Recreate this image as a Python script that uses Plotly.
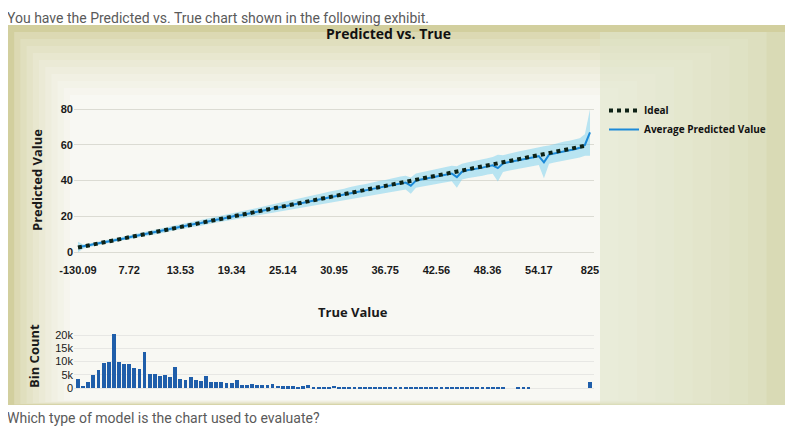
import plotly.graph_objects as go

# bins of the true value (index 0..100), tick labels every 10 bins
tick_bins = [0, 10, 20, 30, 40, 50, 60, 70, 80, 90, 100]
tick_labels = ['-130.09', '7.72', '13.53', '19.34', '25.14', '30.95',
               '36.75', '42.56', '48.36', '54.17', '825']

# ideal line (bin centres), read at the tick bins
ideal_x = [0, 10, 20, 30, 40, 50, 60, 70, 80, 90, 99]
ideal_y = [2.5, 8.2, 14.0, 19.8, 25.5, 31.3, 37.0, 42.8, 48.5, 54.3, 59.5]

# average predicted value per bin
avg_pred = [2.8, 3.0, 3.6, 4.3, 4.8, 5.3, 6.0, 6.6, 7.1, 7.6,
            8.3, 8.9, 9.4, 10.0, 10.5, 11.2, 11.7, 12.2, 12.9, 13.5,
            14.0, 14.5, 15.2, 15.8, 16.2, 16.9, 17.4, 18.1, 18.5, 19.2,
            19.7, 20.4, 20.8, 21.5, 22.0, 22.6, 23.1, 23.8, 24.3, 24.9,
            25.4, 26.1, 26.5, 27.2, 27.6, 28.3, 28.9, 29.4, 30.0, 30.6,
            31.1, 31.7, 32.2, 32.9, 33.3, 34.0, 34.5, 35.1, 35.6, 36.2,
            36.6, 37.3, 37.9, 38.4, 38.9, 37.2, 40.0, 40.6, 41.1, 41.8,
            42.3, 42.9, 43.4, 44.0, 42.0, 45.0, 45.8, 46.2, 46.9, 47.3,
            48.0, 48.6, 47.0, 49.6, 50.3, 50.8, 51.5, 52.0, 52.6, 53.1,
            53.8, 50.3, 54.6, 55.3, 55.8, 56.6, 57.0, 57.6, 58.4, 60.0,
            67.0]

# spread of the predictions around the average, per bin
spread = [3.0, 1.2, 1.0, 1.0, 1.0, 1.0, 1.0, 1.0, 1.0, 1.0,
          1.1, 1.1, 1.2, 1.2, 1.2, 1.2, 1.3, 1.3, 1.3, 1.3,
          1.4, 1.4, 1.4, 1.5, 1.5, 1.5, 1.6, 1.6, 1.6, 1.7,
          1.8, 1.8, 1.9, 2.0, 2.0, 2.1, 2.2, 2.3, 2.4, 2.5,
          2.5, 2.6, 2.7, 2.8, 2.8, 2.9, 3.0, 3.0, 3.1, 3.2,
          3.2, 3.3, 3.3, 3.4, 3.4, 3.5, 3.5, 3.6, 3.6, 3.7,
          3.7, 3.8, 3.8, 3.9, 3.9, 4.5, 4.0, 4.0, 4.1, 4.1,
          4.2, 4.2, 4.3, 4.3, 6.0, 4.4, 4.4, 4.5, 4.5, 4.6,
          4.6, 4.7, 7.5, 4.7, 4.8, 4.8, 4.9, 4.9, 5.0, 5.0,
          5.1, 9.0, 5.1, 5.2, 5.2, 5.3, 5.3, 5.4, 5.4, 6.0,
          13.0]

# number of rows falling in each bin
bin_count = [3400, 900, 2100, 5000, 6900, 9400, 9900, 20500, 9900, 8900,
             8900, 7500, 7100, 13400, 5400, 5400, 4600, 5000, 4100, 7800,
             3400, 3100, 4100, 3100, 2800, 4600, 2400, 2200, 2100, 1900,
             1900, 2900, 1300, 1100, 1400, 1000, 1100, 1100, 1500, 900,
             700, 600, 600, 500, 600, 1100, 500, 500, 500, 500,
             800, 250, 200, 200, 200, 300, 500, 200, 150, 150,
             150, 150, 150, 100, 120, 100, 100, 120, 100, 100,
             80, 100, 80, 100, 80, 80, 100, 80, 60, 80,
             60, 150, 60, 50, 0, 0, 150, 40, 40, 0,
             0, 0, 0, 0, 0, 0, 0, 0, 0, 0,
             2300]

bins = list(range(len(avg_pred)))
band_hi = [a + s for a, s in zip(avg_pred, spread)]
band_lo = [a - s for a, s in zip(avg_pred, spread)]

W, H = 802, 446
OFF = 8  # the page body margin pushes the figure 8px right and down
def px(x):
    return (x - OFF) / W
def py(y):
    return 1 - (y - OFF) / H

fig = go.Figure()
fig.add_trace(go.Scatter(x=bins, y=band_hi, mode='lines', line=dict(width=0),
                         showlegend=False, hoverinfo='skip'))
fig.add_trace(go.Scatter(x=bins, y=band_lo, mode='lines', line=dict(width=0),
                         fill='tonexty', fillcolor='rgba(120,208,240,0.5)',
                         showlegend=False, hoverinfo='skip'))
fig.add_trace(go.Scatter(x=bins, y=avg_pred, mode='lines', name='Average Predicted Value',
                         line=dict(color='#1c8ad8', width=2)))
fig.add_trace(go.Scatter(x=ideal_x, y=ideal_y, mode='lines', name='Ideal',
                         line=dict(color='#0e2216', width=4, dash='4px,4px')))
fig.add_trace(go.Bar(x=bins, y=bin_count, xaxis='x2', yaxis='y2', width=0.75,
                     marker=dict(color='#1f5eaa', line=dict(width=0)), showlegend=False))

tick_font = dict(family='Liberation Sans, Arial', size=11, color='#1a1a1a', weight='bold')
x_dom = [px(74), px(594)]
x_rng = [-0.78, 100.78]

# photo of the screen behind the chart: soft vignette made of nested rects
outer = (8, 25, 785, 405)
inner = (70, 95, 600, 400)
c_out = (210, 207, 158)
c_in = (248, 248, 243)
steps = 10
shapes = []
for k in range(steps + 1):
    t = k / steps
    x0 = outer[0] + (inner[0] - outer[0]) * t
    y0 = outer[1] + (inner[1] - outer[1]) * t
    x1 = outer[2] + (inner[2] - outer[2]) * t
    y1 = outer[3] + (inner[3] - outer[3]) * t
    col = tuple(round(a + (b - a) * t ** 0.6) for a, b in zip(c_out, c_in))
    shapes.append(dict(type='rect', xref='paper', yref='paper',
                       x0=px(x0), y0=py(y1), x1=px(x1), y1=py(y0),
                       fillcolor='rgb(%d,%d,%d)' % col, line=dict(width=0), layer='below'))
# right part of the photo, beige-green
shapes.append(dict(type='rect', xref='paper', yref='paper', x0=px(600), y0=py(405),
                   x1=px(785), y1=py(32), fillcolor='rgba(222,228,200,0.55)',
                   line=dict(width=0), layer='below'))

title_font = dict(family='Open Sans', size=13, color='#1a1a1a')
annotations = [
    dict(text='You have the Predicted vs. True chart shown in the following exhibit.',
         x=px(5), y=1, xanchor='left', yanchor='top',
         font=dict(family='Roboto', size=14, color='#5a5a5a')),
    dict(text='Which type of model is the chart used to evaluate?',
         x=px(5), y=py(418), xanchor='left', yanchor='middle',
         font=dict(family='Roboto', size=14, color='#5a5a5a')),
    dict(text='<b>Predicted vs. True</b>', x=px(388), y=py(34), xanchor='center', yanchor='middle',
         font=dict(family='Open Sans', size=14, color='#111')),
    dict(text='<b>Predicted Value</b>', x=px(37), y=py(180), textangle=-90,
         xanchor='center', yanchor='middle', font=title_font),
    dict(text='<b>True Value</b>', x=px(353), y=py(312), xanchor='center', yanchor='middle',
         font=title_font),
    dict(text='<b>Bin Count</b>', x=px(34), y=py(356), textangle=-90,
         xanchor='center', yanchor='middle', font=title_font),
]
for a in annotations:
    a.setdefault('xref', 'paper')
    a.setdefault('yref', 'paper')
    a.setdefault('showarrow', False)

fig.update_layout(
    width=W, height=H,
    margin=dict(l=0, r=0, t=0, b=0, autoexpand=False),
    paper_bgcolor='white', plot_bgcolor='rgba(0,0,0,0)',
    shapes=shapes, annotations=annotations,
    xaxis=dict(domain=x_dom, range=x_rng, tickvals=tick_bins, ticktext=tick_labels,
               showgrid=False, zeroline=False, showline=False, ticks='',
               tickfont=tick_font, anchor='y', automargin=False),
    yaxis=dict(domain=[py(262), py(95)], range=[-5.6, 88], tickvals=[0, 20, 40, 60, 80],
               showgrid=True, gridcolor='rgba(190,190,180,0.5)', zeroline=False,
               tickfont=tick_font, anchor='x', automargin=False),
    xaxis2=dict(domain=x_dom, range=x_rng, showticklabels=False, showgrid=False,
                zeroline=False, ticks='', anchor='y2', automargin=False),
    yaxis2=dict(domain=[py(390), py(332)], range=[-750, 21130],
                tickvals=[0, 5000, 10000, 15000, 20000], ticktext=['0', '5k', '10k', '15k', '20k'],
                showgrid=True, gridcolor='rgba(200,200,200,0.35)', zeroline=False,
                tickfont=dict(family='Liberation Sans, Arial', size=11, color='#1a1a1a'),
                anchor='x2', automargin=False),
    legend=dict(x=px(604), y=py(96), xanchor='left', yanchor='top',
                bgcolor='rgba(0,0,0,0)', traceorder='reversed',
                font=dict(family='Open Sans', size=10, color='#111', weight='bold'),
                itemwidth=30, tracegroupgap=2),
    showlegend=True,
    bargap=0,
)

fig.write_html('out.html')
